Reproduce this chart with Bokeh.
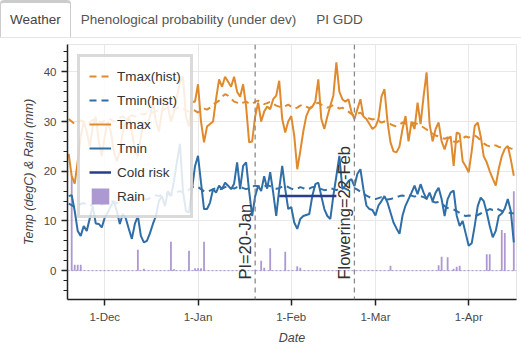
import pandas as pd
from bokeh.plotting import figure
from bokeh.models import (Range1d, Span, Label, Legend, LegendItem, MonthsTicker,
                          DatetimeTickFormatter, Tabs, TabPanel, ColumnDataSource,
                          InlineStyleSheet)
from bokeh.embed import file_html
from bokeh.resources import INLINE

# ---------------- data ----------------
start_date = "2022-11-19"
end_date = "2023-04-16"

tmax = [23.5, 19.0, 17.5, 22.0, 27.0, 30.0, 28.0, 25.0, 29.0, 31.0,
        26.0, 23.0, 27.0, 30.0, 28.0, 24.0, 22.0, 24.0, 28.0, 30.0,
        31.0, 28.0, 24.0, 23.0, 27.0, 30.0, 29.0, 31.0, 34.0, 30.0,
        28.0, 32.0, 35.0, 33.0, 30.0, 32.0, 35.0, 38.0, 39.0, 31.0,
        29.0, 34.0, 34.0, 37.5, 30.0, 25.8, 29.0, 29.5, 30.0, 34.5,
        38.5, 37.0, 39.0, 38.0, 37.0, 39.0, 36.0, 35.0, 37.5, 33.0,
        25.8, 26.0, 31.0, 33.8, 30.0, 32.0, 33.0, 32.5, 34.5, 35.2,
        38.2, 30.5, 27.8, 30.0, 31.1, 27.1, 20.4, 24.0, 28.0, 31.1,
        32.5, 33.0, 34.0, 38.5, 30.5, 28.5, 31.0, 33.2, 35.2, 41.9,
        36.0, 34.5, 34.0, 34.5, 32.0, 30.5, 32.5, 34.5, 31.0, 30.5,
        29.5, 28.5, 29.0, 30.5, 35.0, 36.5, 30.0, 25.8, 24.0, 23.8,
        25.0, 28.5, 31.1, 26.0, 30.0, 28.5, 33.8, 29.5, 35.0, 39.9,
        29.5, 26.0, 28.5, 29.8, 26.0, 24.4, 26.5, 27.0, 21.1, 27.8,
        27.5, 22.0, 21.0, 19.8, 24.0, 29.1, 29.8, 27.0, 23.0, 21.8,
        20.0, 18.5, 17.1, 20.5, 23.0, 24.5, 25.1, 22.4, 19.1]

tmin = [15.0, 15.2, 12.0, 8.0, 7.0, 9.0, 8.0, 10.5, 13.0, 9.5,
        9.4, 8.7, 10.7, 11.7, 13.0, 14.0, 12.0, 9.4, 11.4, 10.5,
        8.4, 6.4, 9.4, 11.0, 7.0, 5.7, 6.0, 7.5, 9.4, 11.0,
        14.0, 15.0, 13.0, 16.0, 15.0, 18.0, 22.0, 25.5, 16.0, 12.0,
        11.7, 16.4, 21.0, 23.1, 17.7, 12.4, 12.4, 13.7, 16.4, 15.7,
        17.1, 16.4, 17.7, 17.1, 16.4, 17.5, 21.8, 16.4, 21.1, 21.8,
        16.0, 11.0, 15.0, 17.1, 16.0, 19.0, 16.5, 19.8, 15.7, 11.0,
        16.4, 21.1, 16.4, 12.4, 12.8, 9.7, 8.4, 10.4, 11.0, 11.2,
        11.4, 15.0, 17.4, 17.7, 15.0, 12.4, 11.0, 10.4, 15.1, 19.0,
        23.1, 16.4, 17.1, 18.0, 18.4, 17.0, 19.5, 20.4, 16.4, 13.1,
        12.4, 12.2, 11.1, 13.1, 14.0, 15.0, 13.7, 11.7, 9.7, 8.5,
        7.4, 11.1, 13.1, 14.4, 15.7, 17.1, 15.4, 17.4, 15.7, 14.4,
        15.7, 14.0, 15.7, 16.7, 14.4, 11.0, 14.4, 15.7, 16.1, 11.1,
        9.0, 10.0, 7.5, 5.0, 5.5, 9.0, 13.0, 14.7, 14.0, 11.7,
        9.0, 6.7, 8.0, 11.0, 11.5, 12.5, 14.4, 12.0, 5.7]

tmax_hist = [30.5, 30.0, 29.5, 29.8, 30.2, 30.0, 29.5, 29.8, 30.3, 30.5,
             30.0, 29.8, 30.2, 30.6, 30.4, 30.0, 30.3, 30.8, 31.0, 30.6,
             30.9, 31.3, 31.0, 31.2, 31.6, 31.4, 31.8, 32.1, 31.8, 32.0,
             32.4, 32.2, 32.5, 32.8, 32.5, 32.3, 32.7, 33.0, 32.6, 32.2,
             32.0, 32.4, 32.2, 31.8, 32.3, 32.6, 32.4, 32.8, 33.4, 33.8,
             34.2, 35.0, 35.5, 35.2, 34.6, 34.0, 33.8, 33.5, 33.8, 34.0,
             33.6, 33.5, 34.0, 34.2, 33.8, 33.5, 33.7, 34.0, 33.6, 33.2,
             33.0, 32.8, 33.1, 33.4, 33.0, 32.6, 32.8, 33.2, 33.4, 33.0,
             32.7, 33.0, 33.5, 33.8, 33.4, 33.0, 32.8, 33.0, 33.3, 33.0,
             32.6, 32.8, 32.4, 32.0, 31.5, 31.2, 31.6, 31.8, 31.2, 30.8,
             30.6, 30.4, 30.6, 30.2, 29.8, 30.0, 29.8, 29.5, 29.2, 29.0,
             29.4, 29.8, 29.6, 29.3, 29.5, 29.8, 29.5, 29.2, 28.8, 28.4,
             28.0, 27.6, 27.2, 27.0, 26.8, 26.5, 26.8, 26.4, 26.0, 25.8,
             26.2, 26.6, 27.0, 26.8, 27.1, 27.2, 26.8, 26.2, 25.6, 25.2,
             25.0, 25.3, 25.2, 24.9, 24.8, 25.0, 24.8, 24.6, 24.5]

tmin_hist = [13.5, 13.2, 12.8, 13.0, 13.4, 13.6, 13.2, 13.0, 13.4, 13.8,
             13.6, 13.3, 13.5, 13.9, 14.1, 13.8, 13.6, 13.9, 14.3, 14.5,
             14.2, 14.0, 14.3, 14.6, 14.8, 14.5, 14.3, 14.6, 15.0, 15.2,
             15.0, 15.3, 15.6, 15.4, 15.2, 15.5, 15.8, 16.0, 15.7, 15.9,
             16.3, 16.8, 17.0, 16.8, 16.4, 16.0, 15.8, 16.1, 16.4, 16.6,
             16.3, 16.5, 16.8, 17.0, 16.7, 16.5, 16.8, 17.0, 16.6, 16.4,
             16.6, 16.9, 17.1, 17.0, 16.8, 16.9, 17.2, 17.0, 16.7, 16.5,
             16.6, 16.9, 17.1, 16.8, 16.5, 16.3, 16.5, 16.8, 16.6, 16.3,
             16.5, 16.8, 16.9, 16.6, 16.4, 16.2, 16.3, 16.6, 16.4, 16.2,
             16.5, 16.7, 16.5, 16.2, 16.4, 16.6, 16.3, 15.9, 15.5, 15.1,
             14.8, 14.5, 14.4, 14.6, 14.8, 14.5, 14.3, 14.4, 14.6, 14.8,
             15.0, 15.1, 15.0, 15.2, 15.1, 14.9, 15.1, 15.0, 14.8, 14.5,
             14.2, 13.9, 13.7, 13.8, 13.5, 13.0, 12.6, 12.4, 12.3, 12.0,
             11.6, 11.2, 11.0, 11.1, 11.0, 10.9, 11.2, 11.5, 11.8, 12.1,
             12.4, 12.2, 12.5, 12.3, 12.0, 11.8, 11.7, 11.6, 11.5]

rain_dates = ["2022-11-20", "2022-11-21", "2022-11-22", "2022-11-23", "2022-12-12",
              "2022-12-14", "2022-12-23", "2022-12-24", "2022-12-29", "2022-12-31",
              "2023-01-01", "2023-01-02", "2023-01-03", "2023-01-22", "2023-01-23",
              "2023-01-25", "2023-01-30", "2023-02-03", "2023-02-04", "2023-03-06",
              "2023-03-22", "2023-03-23", "2023-03-25", "2023-03-27", "2023-03-28",
              "2023-03-29", "2023-04-07", "2023-04-08", "2023-04-12", "2023-04-13",
              "2023-04-16"]
rain_mm = [19.0, 1.2, 1.2, 1.2, 4.2,
           0.4, 5.8, 0.3, 4.0, 0.5,
           0.5, 0.5, 5.8, 2.0, 0.6,
           4.5, 3.8, 0.9, 0.6, 1.0,
           1.1, 2.8, 2.7, 0.4, 0.8,
           1.0, 3.3, 3.3, 8.2, 7.6,
           16.0]

cold_dates = ["2023-01-28", "2023-02-16"]
cold_temp = [15.0, 15.0]

pi_date = "2023-01-20"
pi_text = "PI=20-Jan"
flower_date = "2023-02-22"
flower_text = "Flowering=22-Feb"

tab_titles = ["Weather", "Phenological probability (under dev)", "PI GDD"]

# ---------------- styling ----------------
C_TMAX = "#e08a2e"
C_TMIN = "#2f6ea6"
C_COLD = "#2a3c8c"
C_RAIN = "#a993cf"
FONT = "Liberation Sans"

dates = pd.date_range(start_date, end_date, freq="D")
src = ColumnDataSource(dict(date=dates, tmax=tmax, tmin=tmin,
                            tmax_h=tmax_hist, tmin_h=tmin_hist))
rsrc = ColumnDataSource(dict(date=pd.to_datetime(rain_dates), rain=rain_mm))
csrc = ColumnDataSource(dict(date=pd.to_datetime(cold_dates), t=cold_temp))

x0 = pd.Timestamp("2022-11-18 14:30")
x1 = pd.Timestamp("2023-04-16 21:30")

p = figure(width=521, height=310, x_axis_type="datetime",
           x_range=Range1d(x0, x1), y_range=Range1d(-5.8, 45.5),
           output_backend="svg", toolbar_location=None,
           min_border_left=67, min_border_right=5, min_border_top=6,
           min_border_bottom=49)
p.outline_line_color = "#e6e6e6"
p.xgrid.grid_line_color = "#e8e8e8"
p.ygrid.grid_line_color = "#e8e8e8"

day_ms = 86400000
r_rain = p.vbar(x="date", top="rain", bottom=0, width=0.6 * day_ms, source=rsrc,
                fill_color=C_RAIN, line_color=None, fill_alpha=0.95)
p.add_layout(Span(location=0, dimension="width", line_color=C_RAIN,
                  line_dash="2 2", line_width=1))

r_tmax_h = p.line("date", "tmax_h", source=src, color=C_TMAX, line_width=2, line_dash="7 5")
r_tmin_h = p.line("date", "tmin_h", source=src, color=C_TMIN, line_width=2, line_dash="7 5")
r_tmax = p.line("date", "tmax", source=src, color=C_TMAX, line_width=2)
r_tmin = p.line("date", "tmin", source=src, color=C_TMIN, line_width=2)
r_cold = p.line("date", "t", source=csrc, color=C_COLD, line_width=2.5)

for d, t in [(pi_date, pi_text), (flower_date, flower_text)]:
    ts = pd.Timestamp(d)
    p.add_layout(Span(location=ts, dimension="height", line_color="#8a8a8a",
                      line_dash="5 4", line_width=1.3))
    p.add_layout(Label(x=ts, y=-1.8, text=t, angle=90, angle_units="deg",
                       text_align="left", text_baseline="bottom", x_offset=-1,
                       text_font=FONT, text_font_size="16.5px", text_color="#333333"))

legend = Legend(items=[
    LegendItem(label="Tmax(hist)", renderers=[r_tmax_h]),
    LegendItem(label="Tmin(hist)", renderers=[r_tmin_h]),
    LegendItem(label="Tmax", renderers=[r_tmax]),
    LegendItem(label="Tmin", renderers=[r_tmin]),
    LegendItem(label="Cold risk", renderers=[r_cold]),
    LegendItem(label="Rain", renderers=[r_rain]),
], location="top_left")
legend.margin = 10
legend.padding = 9
legend.spacing = 4
legend.glyph_width = 22
legend.glyph_height = 20
legend.label_standoff = 6
legend.label_height = 20
legend.label_text_font = FONT
legend.label_text_font_size = "13.5px"
legend.label_text_color = "#333333"
legend.border_line_color = "#b5b5b5"
legend.border_line_width = 3
legend.background_fill_alpha = 0.85
p.add_layout(legend)

p.xaxis.ticker = MonthsTicker(months=list(range(12)))
p.xaxis.formatter = DatetimeTickFormatter(months="%-d-%b", days="%-d-%b")
p.xaxis.axis_label = "Date"
p.yaxis.axis_label = "Temp (degC) & Rain (mm)"
p.yaxis.ticker.desired_num_ticks = 5
for ax in (p.xaxis, p.yaxis):
    ax.axis_label_text_font = FONT
    ax.axis_label_text_font_style = "italic"
    ax.axis_label_text_font_size = "12.5px"
    ax.axis_label_text_color = "#444444"
    ax.major_label_text_font = FONT
    ax.major_label_text_font_size = "11.5px"
    ax.major_label_text_color = "#4a4a4a"
    ax.axis_line_color = "#222222"
    ax.axis_line_width = 1.5
    ax.major_tick_line_color = "#222222"
    ax.major_tick_line_width = 1.5
    ax.major_tick_in = 0
    ax.major_tick_out = 6
    ax.minor_tick_line_color = "#222222"
    ax.minor_tick_in = 0
    ax.minor_tick_out = 4
p.xaxis.minor_tick_line_color = None


def blank():
    q = figure(width=521, height=310, output_backend="svg", toolbar_location=None)
    q.scatter([0], [0], alpha=0)
    return q


tab_css = InlineStyleSheet(css="""
.bk-tab { font-family: 'Liberation Sans', Arial, sans-serif; font-size: 13.5px;
          color: #555555; padding: 7px 9px 8px 9px; }
.bk-tab.bk-active { color: #444444; }
""")

tabs = Tabs(tabs=[TabPanel(child=p, title=tab_titles[0]),
                  TabPanel(child=blank(), title=tab_titles[1]),
                  TabPanel(child=blank(), title=tab_titles[2])],
            stylesheets=[tab_css])

open("out.html", "w").write(file_html(tabs, INLINE))
